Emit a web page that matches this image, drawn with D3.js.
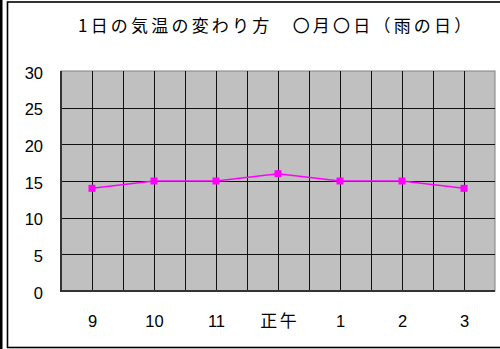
<!DOCTYPE html>
<html>
<head>
<meta charset="utf-8">
<script src="https://cdn.jsdelivr.net/npm/d3@7"></script>
<style>
  html, body { margin: 0; padding: 0; background: #fff; }
  svg { display: block; }
</style>
</head>
<body>
<svg id="chart" width="500" height="349"></svg>
<script>
// Hourly temperature on a rainy day
const titleText = "1日の気温の変わり方　〇月〇日（雨の日）";
const hours = ["9", "10", "11", "正午", "1", "2", "3"];
const temps = [14, 15, 15, 16, 15, 15, 14];
const yTicks = [0, 5, 10, 15, 20, 25, 30];

const svg = d3.select("#chart");
const W = 500, H = 349;
const plot = { left: 61, right: 495, top: 71, bottom: 291 };

const digitFont = "'Liberation Sans', Arial, sans-serif";
const cjkFont = "'Noto Sans CJK JP', 'Noto Sans', sans-serif";

// frame
svg.append("rect").attr("x", 0).attr("y", 0).attr("width", 2.5).attr("height", H).attr("fill", "#000");
svg.append("rect")
  .attr("x", 7.5).attr("y", 2).attr("width", W).attr("height", 345.5)
  .attr("fill", "none").attr("stroke", "#000").attr("stroke-width", 1.6);

// title
svg.append("text")
  .attr("x", 78).attr("y", 32)
  .attr("font-family", cjkFont).attr("font-size", 17)
  .attr("letter-spacing", 3.2)
  .attr("fill", "#000")
  .text(titleText);

const x = d3.scaleBand().domain(hours).range([plot.left, plot.right]).padding(0);
const y = d3.scaleLinear().domain([0, 30]).range([plot.bottom, plot.top]);

// plot background
svg.append("rect")
  .attr("x", plot.left).attr("y", plot.top)
  .attr("width", plot.right - plot.left).attr("height", plot.bottom - plot.top)
  .attr("fill", "#c0c0c0").attr("stroke", "#808080").attr("stroke-width", 1);

// vertical gridlines at category edges and centres
const vx = [];
hours.forEach(h => { vx.push(x(h)); vx.push(x(h) + x.bandwidth() / 2); });
vx.push(plot.right);
svg.append("g").selectAll("line").data(vx.slice(1, -1)).join("line")
  .attr("x1", d => Math.round(d) + 0.5).attr("x2", d => Math.round(d) + 0.5)
  .attr("y1", plot.top).attr("y2", plot.bottom)
  .attr("stroke", "#111").attr("stroke-width", 1);

// horizontal gridlines
svg.append("g").selectAll("line").data(yTicks.slice(1, -1)).join("line")
  .attr("x1", plot.left).attr("x2", plot.right)
  .attr("y1", d => Math.round(y(d)) + 0.5).attr("y2", d => Math.round(y(d)) + 0.5)
  .attr("stroke", "#111").attr("stroke-width", 1);

// axes lines
svg.append("line").attr("x1", plot.left).attr("x2", plot.left)
  .attr("y1", plot.top).attr("y2", plot.bottom + 1)
  .attr("stroke", "#333").attr("stroke-width", 2);
svg.append("line").attr("x1", plot.left).attr("x2", plot.right)
  .attr("y1", plot.bottom).attr("y2", plot.bottom)
  .attr("stroke", "#333").attr("stroke-width", 2);

// y tick labels
svg.append("g").selectAll("text").data(yTicks).join("text")
  .attr("x", 43).attr("y", d => y(d) + 7.5)
  .attr("text-anchor", "end")
  .attr("font-family", digitFont).attr("font-size", 16.5)
  .attr("fill", "#000")
  .text(d => d);

// x tick labels
const isDigit = d => /\d/.test(d);
svg.append("g").selectAll("text").data(hours).join("text")
  .attr("x", d => x(d) + x.bandwidth() / 2 + 0.5).attr("y", 327)
  .attr("text-anchor", "middle")
  .attr("font-family", d => isDigit(d) ? digitFont : cjkFont)
  .attr("font-size", d => isDigit(d) ? 16.5 : 17)
  .attr("letter-spacing", d => isDigit(d) ? 0 : 2.6)
  .attr("dx", d => isDigit(d) ? 0 : 1.3)
  .attr("fill", "#000")
  .text(d => d);

// temperature line
const pts = hours.map((h, i) => [x(h) + x.bandwidth() / 2, y(temps[i])]);
svg.append("path")
  .attr("d", d3.line()(pts))
  .attr("fill", "none").attr("stroke", "#ff00ff").attr("stroke-width", 1.5);

svg.append("g").selectAll("rect").data(pts).join("rect")
  .attr("x", d => d[0] - 3.5).attr("y", d => d[1] - 3.5)
  .attr("width", 7).attr("height", 7)
  .attr("fill", "#ff00ff");
</script>
</body>
</html>
